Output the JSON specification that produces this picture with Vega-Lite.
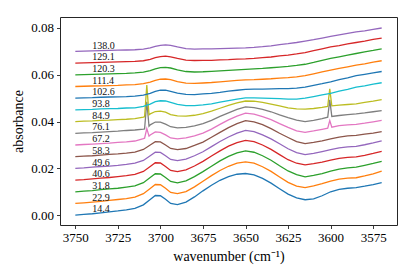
{
"$schema": "https://vega.github.io/schema/vega-lite/v6.json",
"width": 337, "height": 208,
"autosize": {"type": "none"},
"padding": {"left": 60, "top": 17, "right": 18, "bottom": 52},
"background": "white",
"config": {
 "view": {"stroke": "#262626", "strokeWidth": 1},
 "font": "Liberation Serif",
 "axis": {"grid": false, "domain": false, "tickColor": "#262626", "tickSize": 3.5, "tickWidth": 0.9, "labelColor": "black", "titleColor": "black", "labelFont": "Liberation Serif", "titleFont": "Liberation Serif", "labelFontSize": 13, "titleFontSize": 14, "titleFontWeight": "normal", "labelPadding": 3}
},
"datasets": {
"lines": [
{"s":"14.4","x":3750,"y":0.0000},{"s":"14.4","x":3745,"y":0.0003},{"s":"14.4","x":3740,"y":0.0006},{"s":"14.4","x":3735,"y":0.0010},{"s":"14.4","x":3730,"y":0.0014},{"s":"14.4","x":3725,"y":0.0018},{"s":"14.4","x":3720,"y":0.0023},{"s":"14.4","x":3715,"y":0.0029},{"s":"14.4","x":3710,"y":0.0044},{"s":"14.4","x":3706,"y":0.0067},{"s":"14.4","x":3703,"y":0.0084},{"s":"14.4","x":3700,"y":0.0083},{"s":"14.4","x":3697,"y":0.0068},{"s":"14.4","x":3694,"y":0.0050},{"s":"14.4","x":3690,"y":0.0045},{"s":"14.4","x":3685,"y":0.0056},{"s":"14.4","x":3680,"y":0.0078},{"s":"14.4","x":3675,"y":0.0104},{"s":"14.4","x":3670,"y":0.0128},{"s":"14.4","x":3665,"y":0.0149},{"s":"14.4","x":3660,"y":0.0165},{"s":"14.4","x":3655,"y":0.0175},{"s":"14.4","x":3650,"y":0.0178},{"s":"14.4","x":3645,"y":0.0172},{"s":"14.4","x":3640,"y":0.0157},{"s":"14.4","x":3635,"y":0.0137},{"s":"14.4","x":3630,"y":0.0113},{"s":"14.4","x":3625,"y":0.0090},{"s":"14.4","x":3620,"y":0.0074},{"s":"14.4","x":3615,"y":0.0066},{"s":"14.4","x":3610,"y":0.0070},{"s":"14.4","x":3605,"y":0.0083},{"s":"14.4","x":3600,"y":0.0100},{"s":"14.4","x":3595,"y":0.0110},{"s":"14.4","x":3590,"y":0.0115},{"s":"14.4","x":3585,"y":0.0118},{"s":"14.4","x":3580,"y":0.0124},{"s":"14.4","x":3575,"y":0.0131},{"s":"14.4","x":3570,"y":0.0139},
{"s":"22.9","x":3750,"y":0.0050},{"s":"22.9","x":3745,"y":0.0053},{"s":"22.9","x":3740,"y":0.0056},{"s":"22.9","x":3735,"y":0.0059},{"s":"22.9","x":3730,"y":0.0063},{"s":"22.9","x":3725,"y":0.0067},{"s":"22.9","x":3720,"y":0.0071},{"s":"22.9","x":3715,"y":0.0077},{"s":"22.9","x":3710,"y":0.0092},{"s":"22.9","x":3706,"y":0.0114},{"s":"22.9","x":3703,"y":0.0131},{"s":"22.9","x":3700,"y":0.0130},{"s":"22.9","x":3697,"y":0.0115},{"s":"22.9","x":3694,"y":0.0097},{"s":"22.9","x":3690,"y":0.0092},{"s":"22.9","x":3685,"y":0.0101},{"s":"22.9","x":3680,"y":0.0121},{"s":"22.9","x":3675,"y":0.0145},{"s":"22.9","x":3670,"y":0.0169},{"s":"22.9","x":3665,"y":0.0191},{"s":"22.9","x":3660,"y":0.0209},{"s":"22.9","x":3655,"y":0.0222},{"s":"22.9","x":3650,"y":0.0228},{"s":"22.9","x":3645,"y":0.0222},{"s":"22.9","x":3640,"y":0.0207},{"s":"22.9","x":3635,"y":0.0187},{"s":"22.9","x":3630,"y":0.0163},{"s":"22.9","x":3625,"y":0.0140},{"s":"22.9","x":3620,"y":0.0124},{"s":"22.9","x":3615,"y":0.0118},{"s":"22.9","x":3610,"y":0.0125},{"s":"22.9","x":3605,"y":0.0135},{"s":"22.9","x":3600,"y":0.0146},{"s":"22.9","x":3595,"y":0.0154},{"s":"22.9","x":3590,"y":0.0158},{"s":"22.9","x":3585,"y":0.0160},{"s":"22.9","x":3580,"y":0.0168},{"s":"22.9","x":3575,"y":0.0177},{"s":"22.9","x":3570,"y":0.0188},
{"s":"31.8","x":3750,"y":0.0100},{"s":"31.8","x":3745,"y":0.0103},{"s":"31.8","x":3740,"y":0.0105},{"s":"31.8","x":3735,"y":0.0109},{"s":"31.8","x":3730,"y":0.0112},{"s":"31.8","x":3725,"y":0.0115},{"s":"31.8","x":3720,"y":0.0120},{"s":"31.8","x":3715,"y":0.0125},{"s":"31.8","x":3710,"y":0.0139},{"s":"31.8","x":3706,"y":0.0161},{"s":"31.8","x":3703,"y":0.0177},{"s":"31.8","x":3700,"y":0.0176},{"s":"31.8","x":3697,"y":0.0161},{"s":"31.8","x":3694,"y":0.0144},{"s":"31.8","x":3690,"y":0.0138},{"s":"31.8","x":3685,"y":0.0147},{"s":"31.8","x":3680,"y":0.0165},{"s":"31.8","x":3675,"y":0.0186},{"s":"31.8","x":3670,"y":0.0209},{"s":"31.8","x":3665,"y":0.0232},{"s":"31.8","x":3660,"y":0.0251},{"s":"31.8","x":3655,"y":0.0266},{"s":"31.8","x":3650,"y":0.0275},{"s":"31.8","x":3645,"y":0.0269},{"s":"31.8","x":3640,"y":0.0254},{"s":"31.8","x":3635,"y":0.0235},{"s":"31.8","x":3630,"y":0.0211},{"s":"31.8","x":3625,"y":0.0189},{"s":"31.8","x":3620,"y":0.0173},{"s":"31.8","x":3615,"y":0.0164},{"s":"31.8","x":3610,"y":0.0170},{"s":"31.8","x":3605,"y":0.0178},{"s":"31.8","x":3600,"y":0.0188},{"s":"31.8","x":3595,"y":0.0197},{"s":"31.8","x":3590,"y":0.0202},{"s":"31.8","x":3585,"y":0.0205},{"s":"31.8","x":3580,"y":0.0213},{"s":"31.8","x":3575,"y":0.0221},{"s":"31.8","x":3570,"y":0.0230},
{"s":"40.6","x":3750,"y":0.0150},{"s":"40.6","x":3745,"y":0.0152},{"s":"40.6","x":3740,"y":0.0155},{"s":"40.6","x":3735,"y":0.0158},{"s":"40.6","x":3730,"y":0.0161},{"s":"40.6","x":3725,"y":0.0165},{"s":"40.6","x":3720,"y":0.0169},{"s":"40.6","x":3715,"y":0.0174},{"s":"40.6","x":3710,"y":0.0187},{"s":"40.6","x":3706,"y":0.0208},{"s":"40.6","x":3703,"y":0.0224},{"s":"40.6","x":3700,"y":0.0223},{"s":"40.6","x":3697,"y":0.0208},{"s":"40.6","x":3694,"y":0.0191},{"s":"40.6","x":3690,"y":0.0186},{"s":"40.6","x":3685,"y":0.0194},{"s":"40.6","x":3680,"y":0.0210},{"s":"40.6","x":3675,"y":0.0230},{"s":"40.6","x":3670,"y":0.0253},{"s":"40.6","x":3665,"y":0.0275},{"s":"40.6","x":3660,"y":0.0295},{"s":"40.6","x":3655,"y":0.0310},{"s":"40.6","x":3650,"y":0.0320},{"s":"40.6","x":3645,"y":0.0314},{"s":"40.6","x":3640,"y":0.0300},{"s":"40.6","x":3635,"y":0.0281},{"s":"40.6","x":3630,"y":0.0259},{"s":"40.6","x":3625,"y":0.0237},{"s":"40.6","x":3620,"y":0.0222},{"s":"40.6","x":3615,"y":0.0215},{"s":"40.6","x":3610,"y":0.0220},{"s":"40.6","x":3605,"y":0.0227},{"s":"40.6","x":3600,"y":0.0235},{"s":"40.6","x":3595,"y":0.0243},{"s":"40.6","x":3590,"y":0.0247},{"s":"40.6","x":3585,"y":0.0249},{"s":"40.6","x":3580,"y":0.0256},{"s":"40.6","x":3575,"y":0.0264},{"s":"40.6","x":3570,"y":0.0273},
{"s":"49.6","x":3750,"y":0.0200},{"s":"49.6","x":3745,"y":0.0202},{"s":"49.6","x":3740,"y":0.0205},{"s":"49.6","x":3735,"y":0.0208},{"s":"49.6","x":3730,"y":0.0210},{"s":"49.6","x":3725,"y":0.0213},{"s":"49.6","x":3720,"y":0.0217},{"s":"49.6","x":3715,"y":0.0222},{"s":"49.6","x":3710,"y":0.0234},{"s":"49.6","x":3706,"y":0.0254},{"s":"49.6","x":3703,"y":0.0269},{"s":"49.6","x":3700,"y":0.0268},{"s":"49.6","x":3697,"y":0.0254},{"s":"49.6","x":3694,"y":0.0238},{"s":"49.6","x":3690,"y":0.0233},{"s":"49.6","x":3685,"y":0.0240},{"s":"49.6","x":3680,"y":0.0254},{"s":"49.6","x":3675,"y":0.0271},{"s":"49.6","x":3670,"y":0.0293},{"s":"49.6","x":3665,"y":0.0315},{"s":"49.6","x":3660,"y":0.0334},{"s":"49.6","x":3655,"y":0.0351},{"s":"49.6","x":3650,"y":0.0362},{"s":"49.6","x":3645,"y":0.0357},{"s":"49.6","x":3640,"y":0.0343},{"s":"49.6","x":3635,"y":0.0326},{"s":"49.6","x":3630,"y":0.0305},{"s":"49.6","x":3625,"y":0.0284},{"s":"49.6","x":3620,"y":0.0267},{"s":"49.6","x":3615,"y":0.0259},{"s":"49.6","x":3610,"y":0.0264},{"s":"49.6","x":3605,"y":0.0272},{"s":"49.6","x":3600,"y":0.0280},{"s":"49.6","x":3595,"y":0.0288},{"s":"49.6","x":3590,"y":0.0292},{"s":"49.6","x":3585,"y":0.0294},{"s":"49.6","x":3580,"y":0.0301},{"s":"49.6","x":3575,"y":0.0309},{"s":"49.6","x":3570,"y":0.0318},
{"s":"58.3","x":3750,"y":0.0250},{"s":"58.3","x":3745,"y":0.0252},{"s":"58.3","x":3740,"y":0.0254},{"s":"58.3","x":3735,"y":0.0257},{"s":"58.3","x":3730,"y":0.0260},{"s":"58.3","x":3725,"y":0.0262},{"s":"58.3","x":3720,"y":0.0265},{"s":"58.3","x":3715,"y":0.0269},{"s":"58.3","x":3710,"y":0.0281},{"s":"58.3","x":3706,"y":0.0300},{"s":"58.3","x":3703,"y":0.0314},{"s":"58.3","x":3700,"y":0.0313},{"s":"58.3","x":3697,"y":0.0300},{"s":"58.3","x":3694,"y":0.0285},{"s":"58.3","x":3690,"y":0.0280},{"s":"58.3","x":3685,"y":0.0285},{"s":"58.3","x":3680,"y":0.0298},{"s":"58.3","x":3675,"y":0.0312},{"s":"58.3","x":3670,"y":0.0333},{"s":"58.3","x":3665,"y":0.0354},{"s":"58.3","x":3660,"y":0.0374},{"s":"58.3","x":3655,"y":0.0391},{"s":"58.3","x":3650,"y":0.0404},{"s":"58.3","x":3645,"y":0.0399},{"s":"58.3","x":3640,"y":0.0387},{"s":"58.3","x":3635,"y":0.0370},{"s":"58.3","x":3630,"y":0.0350},{"s":"58.3","x":3625,"y":0.0332},{"s":"58.3","x":3620,"y":0.0314},{"s":"58.3","x":3615,"y":0.0306},{"s":"58.3","x":3610,"y":0.0311},{"s":"58.3","x":3605,"y":0.0318},{"s":"58.3","x":3600,"y":0.0326},{"s":"58.3","x":3595,"y":0.0334},{"s":"58.3","x":3590,"y":0.0339},{"s":"58.3","x":3585,"y":0.0341},{"s":"58.3","x":3580,"y":0.0346},{"s":"58.3","x":3575,"y":0.0351},{"s":"58.3","x":3570,"y":0.0357},
{"s":"67.2","x":3750,"y":0.0300},{"s":"67.2","x":3745,"y":0.0302},{"s":"67.2","x":3740,"y":0.0304},{"s":"67.2","x":3735,"y":0.0306},{"s":"67.2","x":3730,"y":0.0308},{"s":"67.2","x":3725,"y":0.0311},{"s":"67.2","x":3720,"y":0.0313},{"s":"67.2","x":3715,"y":0.0317},{"s":"67.2","x":3710,"y":0.0327},{"s":"67.2","x":3709.3,"y":0.0329},{"s":"67.2","x":3708,"y":0.0370},{"s":"67.2","x":3706.7,"y":0.0338},{"s":"67.2","x":3706,"y":0.0343},{"s":"67.2","x":3703,"y":0.0356},{"s":"67.2","x":3700,"y":0.0354},{"s":"67.2","x":3697,"y":0.0343},{"s":"67.2","x":3694,"y":0.0330},{"s":"67.2","x":3690,"y":0.0326},{"s":"67.2","x":3685,"y":0.0330},{"s":"67.2","x":3680,"y":0.0339},{"s":"67.2","x":3675,"y":0.0351},{"s":"67.2","x":3670,"y":0.0368},{"s":"67.2","x":3665,"y":0.0388},{"s":"67.2","x":3660,"y":0.0407},{"s":"67.2","x":3655,"y":0.0423},{"s":"67.2","x":3650,"y":0.0436},{"s":"67.2","x":3645,"y":0.0432},{"s":"67.2","x":3640,"y":0.0421},{"s":"67.2","x":3635,"y":0.0408},{"s":"67.2","x":3630,"y":0.0391},{"s":"67.2","x":3625,"y":0.0375},{"s":"67.2","x":3620,"y":0.0360},{"s":"67.2","x":3615,"y":0.0354},{"s":"67.2","x":3610,"y":0.0360},{"s":"67.2","x":3605,"y":0.0367},{"s":"67.2","x":3601.7,"y":0.0372},{"s":"67.2","x":3600.5,"y":0.0404},{"s":"67.2","x":3599.3,"y":0.0376},{"s":"67.2","x":3595,"y":0.0383},{"s":"67.2","x":3590,"y":0.0386},{"s":"67.2","x":3585,"y":0.0388},{"s":"67.2","x":3580,"y":0.0393},{"s":"67.2","x":3575,"y":0.0399},{"s":"67.2","x":3570,"y":0.0405},
{"s":"76.1","x":3750,"y":0.0350},{"s":"76.1","x":3745,"y":0.0352},{"s":"76.1","x":3740,"y":0.0353},{"s":"76.1","x":3735,"y":0.0355},{"s":"76.1","x":3730,"y":0.0357},{"s":"76.1","x":3725,"y":0.0359},{"s":"76.1","x":3720,"y":0.0362},{"s":"76.1","x":3715,"y":0.0364},{"s":"76.1","x":3710,"y":0.0368},{"s":"76.1","x":3709.3,"y":0.0369},{"s":"76.1","x":3708,"y":0.0485},{"s":"76.1","x":3706.7,"y":0.0380},{"s":"76.1","x":3706,"y":0.0386},{"s":"76.1","x":3703,"y":0.0398},{"s":"76.1","x":3700,"y":0.0398},{"s":"76.1","x":3697,"y":0.0389},{"s":"76.1","x":3694,"y":0.0378},{"s":"76.1","x":3690,"y":0.0373},{"s":"76.1","x":3685,"y":0.0375},{"s":"76.1","x":3680,"y":0.0382},{"s":"76.1","x":3675,"y":0.0391},{"s":"76.1","x":3670,"y":0.0405},{"s":"76.1","x":3665,"y":0.0422},{"s":"76.1","x":3660,"y":0.0437},{"s":"76.1","x":3655,"y":0.0452},{"s":"76.1","x":3650,"y":0.0463},{"s":"76.1","x":3645,"y":0.0460},{"s":"76.1","x":3640,"y":0.0452},{"s":"76.1","x":3635,"y":0.0442},{"s":"76.1","x":3630,"y":0.0429},{"s":"76.1","x":3625,"y":0.0417},{"s":"76.1","x":3620,"y":0.0406},{"s":"76.1","x":3615,"y":0.0400},{"s":"76.1","x":3610,"y":0.0405},{"s":"76.1","x":3605,"y":0.0413},{"s":"76.1","x":3601.7,"y":0.0419},{"s":"76.1","x":3600.5,"y":0.0493},{"s":"76.1","x":3599.3,"y":0.0422},{"s":"76.1","x":3595,"y":0.0426},{"s":"76.1","x":3590,"y":0.0430},{"s":"76.1","x":3585,"y":0.0433},{"s":"76.1","x":3580,"y":0.0437},{"s":"76.1","x":3575,"y":0.0442},{"s":"76.1","x":3570,"y":0.0447},
{"s":"84.9","x":3750,"y":0.0400},{"s":"84.9","x":3745,"y":0.0402},{"s":"84.9","x":3740,"y":0.0403},{"s":"84.9","x":3735,"y":0.0405},{"s":"84.9","x":3730,"y":0.0406},{"s":"84.9","x":3725,"y":0.0408},{"s":"84.9","x":3720,"y":0.0410},{"s":"84.9","x":3715,"y":0.0413},{"s":"84.9","x":3710,"y":0.0419},{"s":"84.9","x":3709.3,"y":0.0421},{"s":"84.9","x":3708,"y":0.0556},{"s":"84.9","x":3706.7,"y":0.0429},{"s":"84.9","x":3706,"y":0.0433},{"s":"84.9","x":3703,"y":0.0443},{"s":"84.9","x":3700,"y":0.0445},{"s":"84.9","x":3697,"y":0.0440},{"s":"84.9","x":3694,"y":0.0430},{"s":"84.9","x":3690,"y":0.0424},{"s":"84.9","x":3685,"y":0.0423},{"s":"84.9","x":3680,"y":0.0427},{"s":"84.9","x":3675,"y":0.0434},{"s":"84.9","x":3670,"y":0.0445},{"s":"84.9","x":3665,"y":0.0457},{"s":"84.9","x":3660,"y":0.0469},{"s":"84.9","x":3655,"y":0.0480},{"s":"84.9","x":3650,"y":0.0488},{"s":"84.9","x":3645,"y":0.0487},{"s":"84.9","x":3640,"y":0.0482},{"s":"84.9","x":3635,"y":0.0475},{"s":"84.9","x":3630,"y":0.0467},{"s":"84.9","x":3625,"y":0.0459},{"s":"84.9","x":3620,"y":0.0454},{"s":"84.9","x":3615,"y":0.0453},{"s":"84.9","x":3610,"y":0.0456},{"s":"84.9","x":3605,"y":0.0461},{"s":"84.9","x":3601.7,"y":0.0465},{"s":"84.9","x":3600.5,"y":0.0540},{"s":"84.9","x":3599.3,"y":0.0467},{"s":"84.9","x":3595,"y":0.0470},{"s":"84.9","x":3590,"y":0.0473},{"s":"84.9","x":3585,"y":0.0476},{"s":"84.9","x":3580,"y":0.0482},{"s":"84.9","x":3575,"y":0.0487},{"s":"84.9","x":3570,"y":0.0494},
{"s":"93.8","x":3750,"y":0.0450},{"s":"93.8","x":3745,"y":0.0451},{"s":"93.8","x":3740,"y":0.0452},{"s":"93.8","x":3735,"y":0.0454},{"s":"93.8","x":3730,"y":0.0455},{"s":"93.8","x":3725,"y":0.0456},{"s":"93.8","x":3720,"y":0.0458},{"s":"93.8","x":3715,"y":0.0459},{"s":"93.8","x":3710,"y":0.0465},{"s":"93.8","x":3706,"y":0.0475},{"s":"93.8","x":3703,"y":0.0485},{"s":"93.8","x":3700,"y":0.0489},{"s":"93.8","x":3697,"y":0.0488},{"s":"93.8","x":3694,"y":0.0482},{"s":"93.8","x":3690,"y":0.0474},{"s":"93.8","x":3685,"y":0.0468},{"s":"93.8","x":3680,"y":0.0468},{"s":"93.8","x":3675,"y":0.0471},{"s":"93.8","x":3670,"y":0.0476},{"s":"93.8","x":3665,"y":0.0483},{"s":"93.8","x":3660,"y":0.0490},{"s":"93.8","x":3655,"y":0.0496},{"s":"93.8","x":3650,"y":0.0501},{"s":"93.8","x":3645,"y":0.0501},{"s":"93.8","x":3640,"y":0.0500},{"s":"93.8","x":3635,"y":0.0499},{"s":"93.8","x":3630,"y":0.0498},{"s":"93.8","x":3625,"y":0.0496},{"s":"93.8","x":3620,"y":0.0496},{"s":"93.8","x":3615,"y":0.0500},{"s":"93.8","x":3610,"y":0.0507},{"s":"93.8","x":3605,"y":0.0514},{"s":"93.8","x":3600,"y":0.0521},{"s":"93.8","x":3595,"y":0.0530},{"s":"93.8","x":3590,"y":0.0538},{"s":"93.8","x":3585,"y":0.0547},{"s":"93.8","x":3580,"y":0.0553},{"s":"93.8","x":3575,"y":0.0560},{"s":"93.8","x":3570,"y":0.0566},
{"s":"102.6","x":3750,"y":0.0500},{"s":"102.6","x":3745,"y":0.0501},{"s":"102.6","x":3740,"y":0.0502},{"s":"102.6","x":3735,"y":0.0504},{"s":"102.6","x":3730,"y":0.0505},{"s":"102.6","x":3725,"y":0.0506},{"s":"102.6","x":3720,"y":0.0507},{"s":"102.6","x":3715,"y":0.0509},{"s":"102.6","x":3710,"y":0.0513},{"s":"102.6","x":3706,"y":0.0521},{"s":"102.6","x":3703,"y":0.0529},{"s":"102.6","x":3700,"y":0.0534},{"s":"102.6","x":3697,"y":0.0534},{"s":"102.6","x":3694,"y":0.0529},{"s":"102.6","x":3690,"y":0.0522},{"s":"102.6","x":3685,"y":0.0516},{"s":"102.6","x":3680,"y":0.0515},{"s":"102.6","x":3675,"y":0.0518},{"s":"102.6","x":3670,"y":0.0521},{"s":"102.6","x":3665,"y":0.0525},{"s":"102.6","x":3660,"y":0.0530},{"s":"102.6","x":3655,"y":0.0534},{"s":"102.6","x":3650,"y":0.0538},{"s":"102.6","x":3645,"y":0.0539},{"s":"102.6","x":3640,"y":0.0539},{"s":"102.6","x":3635,"y":0.0540},{"s":"102.6","x":3630,"y":0.0541},{"s":"102.6","x":3625,"y":0.0541},{"s":"102.6","x":3620,"y":0.0543},{"s":"102.6","x":3615,"y":0.0547},{"s":"102.6","x":3610,"y":0.0555},{"s":"102.6","x":3605,"y":0.0562},{"s":"102.6","x":3600,"y":0.0570},{"s":"102.6","x":3595,"y":0.0579},{"s":"102.6","x":3590,"y":0.0587},{"s":"102.6","x":3585,"y":0.0596},{"s":"102.6","x":3580,"y":0.0602},{"s":"102.6","x":3575,"y":0.0608},{"s":"102.6","x":3570,"y":0.0614},
{"s":"111.4","x":3750,"y":0.0550},{"s":"111.4","x":3745,"y":0.0551},{"s":"111.4","x":3740,"y":0.0552},{"s":"111.4","x":3735,"y":0.0553},{"s":"111.4","x":3730,"y":0.0554},{"s":"111.4","x":3725,"y":0.0555},{"s":"111.4","x":3720,"y":0.0557},{"s":"111.4","x":3715,"y":0.0558},{"s":"111.4","x":3710,"y":0.0562},{"s":"111.4","x":3706,"y":0.0569},{"s":"111.4","x":3703,"y":0.0576},{"s":"111.4","x":3700,"y":0.0581},{"s":"111.4","x":3697,"y":0.0582},{"s":"111.4","x":3694,"y":0.0579},{"s":"111.4","x":3690,"y":0.0571},{"s":"111.4","x":3685,"y":0.0564},{"s":"111.4","x":3680,"y":0.0563},{"s":"111.4","x":3675,"y":0.0565},{"s":"111.4","x":3670,"y":0.0567},{"s":"111.4","x":3665,"y":0.0570},{"s":"111.4","x":3660,"y":0.0573},{"s":"111.4","x":3655,"y":0.0576},{"s":"111.4","x":3650,"y":0.0578},{"s":"111.4","x":3645,"y":0.0579},{"s":"111.4","x":3640,"y":0.0581},{"s":"111.4","x":3635,"y":0.0583},{"s":"111.4","x":3630,"y":0.0586},{"s":"111.4","x":3625,"y":0.0588},{"s":"111.4","x":3620,"y":0.0591},{"s":"111.4","x":3615,"y":0.0596},{"s":"111.4","x":3610,"y":0.0604},{"s":"111.4","x":3605,"y":0.0612},{"s":"111.4","x":3600,"y":0.0620},{"s":"111.4","x":3595,"y":0.0627},{"s":"111.4","x":3590,"y":0.0634},{"s":"111.4","x":3585,"y":0.0641},{"s":"111.4","x":3580,"y":0.0647},{"s":"111.4","x":3575,"y":0.0654},{"s":"111.4","x":3570,"y":0.0660},
{"s":"120.3","x":3750,"y":0.0600},{"s":"120.3","x":3745,"y":0.0601},{"s":"120.3","x":3740,"y":0.0602},{"s":"120.3","x":3735,"y":0.0603},{"s":"120.3","x":3730,"y":0.0604},{"s":"120.3","x":3725,"y":0.0605},{"s":"120.3","x":3720,"y":0.0606},{"s":"120.3","x":3715,"y":0.0608},{"s":"120.3","x":3710,"y":0.0611},{"s":"120.3","x":3706,"y":0.0618},{"s":"120.3","x":3703,"y":0.0625},{"s":"120.3","x":3700,"y":0.0631},{"s":"120.3","x":3697,"y":0.0632},{"s":"120.3","x":3694,"y":0.0629},{"s":"120.3","x":3690,"y":0.0621},{"s":"120.3","x":3685,"y":0.0614},{"s":"120.3","x":3680,"y":0.0612},{"s":"120.3","x":3675,"y":0.0613},{"s":"120.3","x":3670,"y":0.0615},{"s":"120.3","x":3665,"y":0.0617},{"s":"120.3","x":3660,"y":0.0619},{"s":"120.3","x":3655,"y":0.0621},{"s":"120.3","x":3650,"y":0.0623},{"s":"120.3","x":3645,"y":0.0625},{"s":"120.3","x":3640,"y":0.0627},{"s":"120.3","x":3635,"y":0.0630},{"s":"120.3","x":3630,"y":0.0633},{"s":"120.3","x":3625,"y":0.0636},{"s":"120.3","x":3620,"y":0.0640},{"s":"120.3","x":3615,"y":0.0645},{"s":"120.3","x":3610,"y":0.0653},{"s":"120.3","x":3605,"y":0.0662},{"s":"120.3","x":3600,"y":0.0670},{"s":"120.3","x":3595,"y":0.0677},{"s":"120.3","x":3590,"y":0.0684},{"s":"120.3","x":3585,"y":0.0691},{"s":"120.3","x":3580,"y":0.0698},{"s":"120.3","x":3575,"y":0.0704},{"s":"120.3","x":3570,"y":0.0711},
{"s":"129.1","x":3750,"y":0.0650},{"s":"129.1","x":3745,"y":0.0651},{"s":"129.1","x":3740,"y":0.0652},{"s":"129.1","x":3735,"y":0.0653},{"s":"129.1","x":3730,"y":0.0654},{"s":"129.1","x":3725,"y":0.0655},{"s":"129.1","x":3720,"y":0.0656},{"s":"129.1","x":3715,"y":0.0657},{"s":"129.1","x":3710,"y":0.0660},{"s":"129.1","x":3706,"y":0.0666},{"s":"129.1","x":3703,"y":0.0673},{"s":"129.1","x":3700,"y":0.0678},{"s":"129.1","x":3697,"y":0.0680},{"s":"129.1","x":3694,"y":0.0677},{"s":"129.1","x":3690,"y":0.0670},{"s":"129.1","x":3685,"y":0.0663},{"s":"129.1","x":3680,"y":0.0661},{"s":"129.1","x":3675,"y":0.0662},{"s":"129.1","x":3670,"y":0.0662},{"s":"129.1","x":3665,"y":0.0664},{"s":"129.1","x":3660,"y":0.0665},{"s":"129.1","x":3655,"y":0.0667},{"s":"129.1","x":3650,"y":0.0668},{"s":"129.1","x":3645,"y":0.0670},{"s":"129.1","x":3640,"y":0.0673},{"s":"129.1","x":3635,"y":0.0676},{"s":"129.1","x":3630,"y":0.0681},{"s":"129.1","x":3625,"y":0.0684},{"s":"129.1","x":3620,"y":0.0689},{"s":"129.1","x":3615,"y":0.0695},{"s":"129.1","x":3610,"y":0.0703},{"s":"129.1","x":3605,"y":0.0711},{"s":"129.1","x":3600,"y":0.0719},{"s":"129.1","x":3595,"y":0.0725},{"s":"129.1","x":3590,"y":0.0732},{"s":"129.1","x":3585,"y":0.0738},{"s":"129.1","x":3580,"y":0.0744},{"s":"129.1","x":3575,"y":0.0751},{"s":"129.1","x":3570,"y":0.0757},
{"s":"138.0","x":3750,"y":0.0700},{"s":"138.0","x":3745,"y":0.0701},{"s":"138.0","x":3740,"y":0.0702},{"s":"138.0","x":3735,"y":0.0703},{"s":"138.0","x":3730,"y":0.0704},{"s":"138.0","x":3725,"y":0.0705},{"s":"138.0","x":3720,"y":0.0706},{"s":"138.0","x":3715,"y":0.0707},{"s":"138.0","x":3710,"y":0.0710},{"s":"138.0","x":3706,"y":0.0715},{"s":"138.0","x":3703,"y":0.0721},{"s":"138.0","x":3700,"y":0.0726},{"s":"138.0","x":3697,"y":0.0728},{"s":"138.0","x":3694,"y":0.0726},{"s":"138.0","x":3690,"y":0.0719},{"s":"138.0","x":3685,"y":0.0712},{"s":"138.0","x":3680,"y":0.0710},{"s":"138.0","x":3675,"y":0.0711},{"s":"138.0","x":3670,"y":0.0711},{"s":"138.0","x":3665,"y":0.0712},{"s":"138.0","x":3660,"y":0.0713},{"s":"138.0","x":3655,"y":0.0714},{"s":"138.0","x":3650,"y":0.0715},{"s":"138.0","x":3645,"y":0.0717},{"s":"138.0","x":3640,"y":0.0720},{"s":"138.0","x":3635,"y":0.0724},{"s":"138.0","x":3630,"y":0.0729},{"s":"138.0","x":3625,"y":0.0733},{"s":"138.0","x":3620,"y":0.0738},{"s":"138.0","x":3615,"y":0.0744},{"s":"138.0","x":3610,"y":0.0750},{"s":"138.0","x":3605,"y":0.0757},{"s":"138.0","x":3600,"y":0.0764},{"s":"138.0","x":3595,"y":0.0771},{"s":"138.0","x":3590,"y":0.0777},{"s":"138.0","x":3585,"y":0.0783},{"s":"138.0","x":3580,"y":0.0788},{"s":"138.0","x":3575,"y":0.0794},{"s":"138.0","x":3570,"y":0.0800}
],
"labels": [
{"s":"14.4","x":3740,"y":0.0012},{"s":"22.9","x":3740,"y":0.0062},{"s":"31.8","x":3740,"y":0.0112},{"s":"40.6","x":3740,"y":0.0162},{"s":"49.6","x":3740,"y":0.0212},{"s":"58.3","x":3740,"y":0.0262},{"s":"67.2","x":3740,"y":0.0312},{"s":"76.1","x":3740,"y":0.0362},{"s":"84.9","x":3740,"y":0.0412},{"s":"93.8","x":3740,"y":0.0462},{"s":"102.6","x":3740,"y":0.0512},{"s":"111.4","x":3740,"y":0.0562},{"s":"120.3","x":3740,"y":0.0612},{"s":"129.1","x":3740,"y":0.0662},{"s":"138.0","x":3740,"y":0.0712}
]
},
"layer": [
{
 "data": {"name": "lines"},
 "mark": {"type": "line", "strokeWidth": 1.3, "clip": true},
 "encoding": {
  "x": {"field": "x", "type": "quantitative", "scale": {"domain": [3561, 3759], "reverse": true, "nice": false, "zero": false},
        "axis": {"title": "wavenumber (cm⁻¹)", "values": [3575, 3600, 3625, 3650, 3675, 3700, 3725, 3750], "format": "d", "titlePadding": 5}},
  "y": {"field": "y", "type": "quantitative", "scale": {"domain": [-0.0042, 0.0847], "nice": false, "zero": false},
        "axis": {"title": "absorbance", "values": [0, 0.02, 0.04, 0.06, 0.08], "format": ".2f", "titlePadding": 5}},
  "color": {"field": "s", "type": "nominal", "legend": null,
   "scale": {"domain": ["14.4","22.9","31.8","40.6","49.6","58.3","67.2","76.1","84.9","93.8","102.6","111.4","120.3","129.1","138.0"],
             "range": ["#1f77b4","#ff7f0e","#2ca02c","#d62728","#9467bd","#8c564b","#e377c2","#7f7f7f","#bcbd22","#17becf","#1f77b4","#ff7f0e","#2ca02c","#d62728","#9467bd"]}}
 }
},
{
 "data": {"name": "labels"},
 "mark": {"type": "text", "align": "left", "baseline": "alphabetic", "fontSize": 10, "font": "Liberation Serif", "color": "#111"},
 "encoding": {
  "x": {"field": "x", "type": "quantitative"},
  "y": {"field": "y", "type": "quantitative"},
  "text": {"field": "s", "type": "nominal"}
 }
}
]
}
